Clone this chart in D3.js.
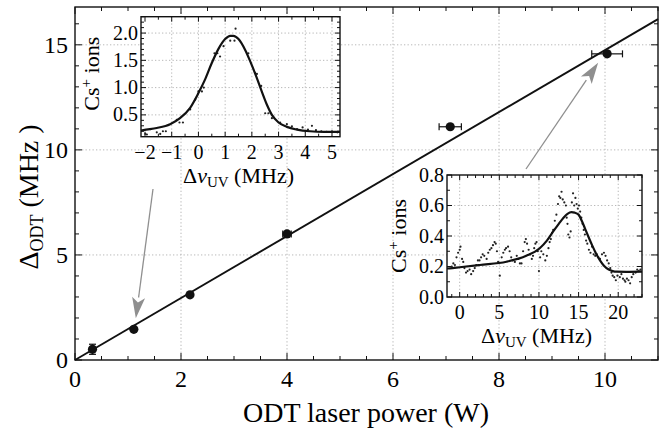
<!DOCTYPE html>
<html>
<head>
<meta charset="utf-8">
<script src="https://cdn.jsdelivr.net/npm/d3@7"></script>
<style>
  body { margin: 0; background: #fff; }
  svg text { font-family: "Liberation Serif", "Times New Roman", "DejaVu Serif", serif; }
</style>
</head>
<body>
<div id="chart"></div>
<script>
// Main data: ODT light shift versus laser power
const power     = [0.33, 1.11, 2.17, 4.0, 7.08, 10.04];
const shift     = [0.51, 1.46, 3.1, 6.0, 11.1, 14.57];
const powerErr  = [0, 0, 0, 0.08, 0.21, 0.29];
const shiftErr  = [0.24, 0, 0, 0, 0, 0];
const fitLineX  = [0, 11];
const fitLineY  = [0, 16.22];
const xTicks    = [0, 2, 4, 6, 8, 10];
const yTicks    = [0, 5, 10, 15];

// Inset 1 (low power resonance)
const in1DotX = [-1.99, -1.93, -1.8, -1.56, -1.43, -1.33, -1.22, -0.81, -0.71, -0.58, -0.31, -0.12, 0.0, 0.13, 0.2,
  0.6, 0.71, 0.81, 0.94, 1.19, 1.35, 1.39, 1.87, 2.12, 2.19, 2.35, 2.5, 2.62, 2.75, 3.06, 3.31, 3.5, 3.69,
  3.9, 4.1, 4.25, 4.4, 4.6, 4.8, 5.0, 5.2];
const in1DotY = [0.15, 0.14, 0.24, 0.18, 0.15, 0.2, 0.2, 0.41, 0.36, 0.36, 0.6, 0.78, 0.93, 0.93, 1.0,
  1.63, 1.63, 1.57, 1.76, 1.86, 1.86, 2.08, 1.63, 1.27, 1.25, 1.03, 0.53, 0.53, 0.44, 0.36, 0.33, 0.29, 0.24,
  0.27, 0.23, 0.3, 0.22, 0.2, 0.19, 0.2, 0.18];
const in1FitX = [-2.15, -2.06, -1.56, -1.06, -0.69, -0.31, 0.0, 0.25, 0.5, 0.75, 1.0, 1.19, 1.31, 1.5, 1.75,
  1.94, 2.16, 2.37, 2.56, 2.75, 3.0, 3.31, 3.69, 4.18, 4.7, 5.3];
const in1FitY = [0.21, 0.22, 0.26, 0.33, 0.44, 0.63, 0.9, 1.15, 1.45, 1.71, 1.89, 1.95, 1.95, 1.89, 1.69,
  1.48, 1.21, 0.93, 0.69, 0.5, 0.36, 0.28, 0.23, 0.2, 0.19, 0.19];
const in1XTicks = [-2, -1, 0, 1, 2, 3, 4, 5];
const in1YTicks = [0.5, 1.0, 1.5, 2.0];

// Inset 2 (high power resonance)
const in2DotX = [-1.0, -0.8, -0.6, -0.4, -0.2, 0.0, 0.1, 0.3, 0.45, 0.6, 0.8, 1.0, 1.25, 1.45, 1.7, 1.9, 2.1, 2.3,
  2.5, 2.7, 2.9, 3.1, 3.4, 3.6, 3.8, 4.0, 4.2, 4.4, 4.55, 4.7, 4.85, 5.06, 5.3, 5.5, 5.7, 5.85, 6.1, 6.3, 6.5,
  6.7, 6.96, 7.2, 7.4, 7.6, 7.8, 8.0, 8.2, 8.35, 8.5, 8.7, 8.9, 9.1, 9.25, 9.4, 9.55, 9.7, 9.85, 10.0, 10.15,
  10.3, 10.55, 10.8, 11.0, 11.2, 11.35, 11.5, 11.65, 11.8, 12.0, 12.2, 12.4, 12.55, 12.7, 12.85, 13.0, 13.2,
  13.4, 13.5, 13.6, 13.7, 13.85, 14.0, 14.15, 14.3, 14.45, 14.6, 14.75, 14.9, 15.05, 15.2, 15.35, 15.5, 15.65,
  15.8, 15.95, 16.1, 16.3, 16.5, 16.7, 16.9, 17.1, 17.3, 17.5, 17.7, 17.95, 18.2, 18.4, 18.6, 18.8, 19.0,
  19.15, 19.3, 19.5, 19.7, 19.9, 20.2, 20.4, 20.6, 20.8, 20.9, 21.1, 21.3, 21.5, 21.7, 21.9, 22.2, 22.4,
  22.6, 22.8];
const in2DotY = [0.2, 0.22, 0.21, 0.26, 0.29, 0.31, 0.33, 0.25, 0.23, 0.19, 0.16, 0.17, 0.18, 0.15, 0.17, 0.19,
  0.21, 0.24, 0.24, 0.26, 0.28, 0.27, 0.25, 0.29, 0.31, 0.32, 0.34, 0.36, 0.35, 0.3, 0.23, 0.14, 0.26, 0.29,
  0.31, 0.32, 0.33, 0.3, 0.26, 0.24, 0.23, 0.27, 0.25, 0.22, 0.22, 0.3, 0.36, 0.38, 0.35, 0.31, 0.28, 0.25,
  0.27, 0.32, 0.35, 0.36, 0.3, 0.17, 0.26, 0.3, 0.28, 0.24, 0.27, 0.32, 0.36, 0.38, 0.42, 0.44, 0.5, 0.54,
  0.61, 0.66, 0.65, 0.69, 0.64, 0.62, 0.6, 0.52, 0.48, 0.41, 0.39, 0.43, 0.62, 0.68, 0.6, 0.65, 0.61, 0.58,
  0.6, 0.56, 0.52, 0.48, 0.44, 0.41, 0.37, 0.35, 0.31, 0.29, 0.33, 0.28, 0.27, 0.28, 0.26, 0.25, 0.28, 0.29,
  0.27, 0.24, 0.22, 0.19, 0.16, 0.14, 0.13, 0.11, 0.14, 0.13, 0.15, 0.12, 0.11, 0.1, 0.12, 0.11, 0.09, 0.13,
  0.15, 0.16, 0.18, 0.17, 0.18];
const in2FitX = [-1.6, -1.27, 0, 2.53, 5.9, 8.4, 10.1, 11.0, 11.8, 12.5, 13.1, 13.6, 14.1, 14.5, 15.0, 15.4,
  15.8, 16.2, 16.7, 17.2, 17.7, 18.2, 18.8, 19.3, 19.8, 21, 23];
const in2FitY = [0.187, 0.188, 0.195, 0.21, 0.231, 0.27, 0.32, 0.37, 0.43, 0.48, 0.52, 0.545, 0.556, 0.553,
  0.54, 0.5, 0.45, 0.4, 0.34, 0.285, 0.24, 0.205, 0.18, 0.17, 0.166, 0.165, 0.166];
const in2XTicks = [0, 5, 10, 15, 20];
const in2YTicks = [0.0, 0.2, 0.4, 0.6, 0.8];

const width = 669, height = 435;
const gridColour = "#b8b8b8";
const arrowColour = "#8f8f8f";
const serif = "'Liberation Serif', 'Times New Roman', 'DejaVu Serif', serif";

const svg = d3.select("#chart").append("svg")
    .attr("width", width)
    .attr("height", height)
    .attr("font-family", serif);

const fmtMinus = v => (v < 0 ? "\u2212" + Math.abs(v) : String(v));

// Draws a framed panel: dotted grid, inward ticks on every side, tick labels
function panel(g, x, y, opt) {
  const [x0, x1] = x.range();
  const [y0, y1] = y.range();   // y0 bottom, y1 top

  g.append("rect")
    .attr("x", x0).attr("y", y1)
    .attr("width", x1 - x0).attr("height", y0 - y1)
    .attr("fill", "#fff");

  const grid = g.append("g")
    .attr("stroke", gridColour)
    .attr("stroke-width", 1)
    .attr("stroke-dasharray", "1.3,2.2");
  grid.selectAll(".gx").data(opt.xGrid).join("line")
    .attr("x1", d => x(d)).attr("x2", d => x(d))
    .attr("y1", y0).attr("y2", y1);
  grid.selectAll(".gy").data(opt.yGrid).join("line")
    .attr("x1", x0).attr("x2", x1)
    .attr("y1", d => y(d)).attr("y2", d => y(d));

  const ticks = g.append("g").attr("stroke", "#111").attr("stroke-width", 1);
  const xMinor = d3.range(opt.xMinor[0], opt.xMinor[1] + 1e-9, opt.xMinor[2]);
  const yMinor = d3.range(opt.yMinor[0], opt.yMinor[1] + 1e-9, opt.yMinor[2]);
  const isMajor = (arr, v) => arr.some(t => Math.abs(t - v) < 1e-6);
  xMinor.forEach(v => {
    const len = isMajor(opt.xTicks, v) ? opt.major : opt.minor;
    ticks.append("line").attr("x1", x(v)).attr("x2", x(v)).attr("y1", y0).attr("y2", y0 - len);
    ticks.append("line").attr("x1", x(v)).attr("x2", x(v)).attr("y1", y1).attr("y2", y1 + len);
  });
  yMinor.forEach(v => {
    const len = isMajor(opt.yTicks, v) ? opt.major : opt.minor;
    ticks.append("line").attr("x1", x0).attr("x2", x0 + len).attr("y1", y(v)).attr("y2", y(v));
    ticks.append("line").attr("x1", x1).attr("x2", x1 - len).attr("y1", y(v)).attr("y2", y(v));
  });

  g.selectAll(".xl").data(opt.xTicks).join("text")
    .attr("x", d => x(d))
    .attr("y", y0 + opt.xLabelDy)
    .attr("text-anchor", "middle")
    .style("font-size", opt.font + "px")
    .text(opt.xFmt);
  g.selectAll(".yl").data(opt.yTicks).join("text")
    .attr("x", x0 - opt.yLabelDx)
    .attr("y", d => y(d) + opt.font * 0.33)
    .attr("text-anchor", "end")
    .style("font-size", opt.font + "px")
    .text(opt.yFmt);
}

function frame(g, x, y) {
  const [x0, x1] = x.range();
  const [y0, y1] = y.range();
  g.append("rect")
    .attr("x", x0).attr("y", y1)
    .attr("width", x1 - x0).attr("height", y0 - y1)
    .attr("fill", "none")
    .attr("stroke", "#111")
    .attr("stroke-width", 1.4);
}

// ---------- main panel ----------
const x = d3.scaleLinear().domain([0, 11]).range([75, 658]);
const y = d3.scaleLinear().domain([0, 16.8]).range([360, 7]);

const main = svg.append("g");
panel(main, x, y, {
  xGrid: [2, 4, 6, 8, 10], yGrid: [5, 10, 15],
  xTicks: xTicks, yTicks: yTicks,
  xMinor: [0, 11, 0.5], yMinor: [0, 16, 1],
  major: 7, minor: 4,
  font: 24, xLabelDy: 27, yLabelDx: 7,
  xFmt: d => d, yFmt: d => d
});

// fit line
main.append("path")
  .datum(d3.zip(fitLineX, fitLineY))
  .attr("fill", "none")
  .attr("stroke", "#111")
  .attr("stroke-width", 1.9)
  .attr("d", d3.line().x(d => x(d[0])).y(d => y(d[1])));

// error bars
const pts = d3.range(power.length).map(i => ({x: power[i], y: shift[i], ex: powerErr[i], ey: shiftErr[i]}));
const eb = main.append("g").attr("stroke", "#111").attr("stroke-width", 1.2);
pts.filter(d => d.ex > 0).forEach(d => {
  eb.append("line").attr("x1", x(d.x - d.ex)).attr("x2", x(d.x + d.ex)).attr("y1", y(d.y)).attr("y2", y(d.y));
  [d.x - d.ex, d.x + d.ex].forEach(v =>
    eb.append("line").attr("x1", x(v)).attr("x2", x(v)).attr("y1", y(d.y) - 3.5).attr("y2", y(d.y) + 3.5));
});
pts.filter(d => d.ey > 0).forEach(d => {
  eb.append("line").attr("x1", x(d.x)).attr("x2", x(d.x)).attr("y1", y(d.y - d.ey)).attr("y2", y(d.y + d.ey));
  [d.y - d.ey, d.y + d.ey].forEach(v =>
    eb.append("line").attr("x1", x(d.x) - 3.5).attr("x2", x(d.x) + 3.5).attr("y1", y(v)).attr("y2", y(v)));
});
main.selectAll(".pt").data(pts).join("circle")
  .attr("cx", d => x(d.x))
  .attr("cy", d => y(d.y))
  .attr("r", 4.6)
  .attr("fill", "#111");

frame(main, x, y);

// axis titles
svg.append("text")
  .attr("x", 366).attr("y", 422)
  .attr("text-anchor", "middle")
  .style("font-size", "28px")
  .text("ODT laser power (W)");

const yTitle = svg.append("text")
  .attr("transform", "translate(38,197) rotate(-90)")
  .attr("text-anchor", "middle")
  .style("font-size", "28px");
yTitle.append("tspan").text("\u0394");
yTitle.append("tspan").attr("dy", 5).style("font-size", "18px").text("ODT");
yTitle.append("tspan").attr("dy", -5).text(" (MHz )");

// ---------- insets ----------
function inset(opt) {
  const g = svg.append("g");
  const ix = d3.scaleLinear().domain(opt.xDomain).range(opt.xRange);
  const iy = d3.scaleLinear().domain(opt.yDomain).range(opt.yRange);
  panel(g, ix, iy, {
    xGrid: opt.xGrid, yGrid: opt.yGrid,
    xTicks: opt.xTicks, yTicks: opt.yTicks,
    xMinor: opt.xMinor, yMinor: opt.yMinor,
    major: 5, minor: 3,
    font: 20, xLabelDy: 22, yLabelDx: 3,
    xFmt: fmtMinus, yFmt: d => d.toFixed(1)
  });

  g.selectAll(".dot").data(d3.zip(opt.dotX, opt.dotY)).join("circle")
    .attr("cx", d => ix(d[0]))
    .attr("cy", d => iy(d[1]))
    .attr("r", 1.1)
    .attr("fill", "#222");

  g.append("path")
    .datum(d3.zip(opt.fitX, opt.fitY))
    .attr("fill", "none")
    .attr("stroke", "#111")
    .attr("stroke-width", 2.2)
    .attr("d", d3.line().curve(d3.curveMonotoneX).x(d => ix(d[0])).y(d => iy(d[1])));

  frame(g, ix, iy);

  const [x0, x1] = ix.range();
  const [y0, y1] = iy.range();
  const t = g.append("text")
    .attr("x", (x0 + x1) / 2 + opt.titleShift)
    .attr("y", y0 + 46)
    .attr("text-anchor", "middle")
    .style("font-size", "22px");
  t.append("tspan").text("\u0394");
  t.append("tspan").style("font-style", "italic").text("\u03bd");
  t.append("tspan").attr("dy", 4).style("font-size", "15px").text("UV");
  t.append("tspan").attr("dy", -4).text(" (MHz)");

  const yl = g.append("text")
    .attr("transform", `translate(${opt.yLabelX},${(y0 + y1) / 2 + opt.yLabelShift}) rotate(-90)`)
    .attr("text-anchor", "middle")
    .style("font-size", "22px");
  yl.append("tspan").text("Cs");
  yl.append("tspan").attr("dy", -8).style("font-size", "15px").text("+");
  yl.append("tspan").attr("dy", 8).text(" ions");
}

inset({
  xDomain: [-2.15, 5.3], xRange: [141, 340],
  yDomain: [0.1, 2.3], yRange: [136.7, 16.7],
  xGrid: [-1, 0, 1, 2, 3, 4, 5], yGrid: [0.5, 1.0, 1.5, 2.0],
  xTicks: in1XTicks, yTicks: in1YTicks,
  xMinor: [-2, 5, 0.5], yMinor: [0.2, 2.3, 0.1],
  dotX: in1DotX, dotY: in1DotY, fitX: in1FitX, fitY: in1FitY,
  titleShift: -2, yLabelX: 99, yLabelShift: -3
});

inset({
  xDomain: [-1.6, 23], xRange: [447, 642],
  yDomain: [0, 0.8], yRange: [297, 175],
  xGrid: [0, 5, 10, 15, 20], yGrid: [0.2, 0.4, 0.6],
  xTicks: in2XTicks, yTicks: in2YTicks,
  xMinor: [-1, 23, 1], yMinor: [0, 0.8, 0.1],
  dotX: in2DotX, dotY: in2DotY, fitX: in2FitX, fitY: in2FitY,
  titleShift: -8, yLabelX: 406, yLabelShift: 0
});

// ---------- grey pointer arrows from insets to data points ----------
const arrows = [
  {from: [153, 189], point: 1, off: [2, -11]},
  {from: [526, 169], point: 5, off: [-9, 9]}
];
arrows.forEach(a => {
  const tip = [x(power[a.point]) + a.off[0], y(shift[a.point]) + a.off[1]];
  const dx = tip[0] - a.from[0], dy = tip[1] - a.from[1];
  const len = Math.hypot(dx, dy);
  const ux = dx / len, uy = dy / len;
  const headL = 21, headW = 6.5;
  const base = [tip[0] - ux * headL, tip[1] - uy * headL];
  svg.append("line")
    .attr("x1", a.from[0]).attr("y1", a.from[1])
    .attr("x2", base[0]).attr("y2", base[1])
    .attr("stroke", arrowColour)
    .attr("stroke-width", 1.3);
  svg.append("path")
    .attr("d", d3.line()([
      tip,
      [base[0] - uy * headW, base[1] + ux * headW],
      [base[0] + ux * 5, base[1] + uy * 5],
      [base[0] + uy * headW, base[1] - ux * headW]
    ]) + "Z")
    .attr("fill", arrowColour);
});
</script>
</body>
</html>
